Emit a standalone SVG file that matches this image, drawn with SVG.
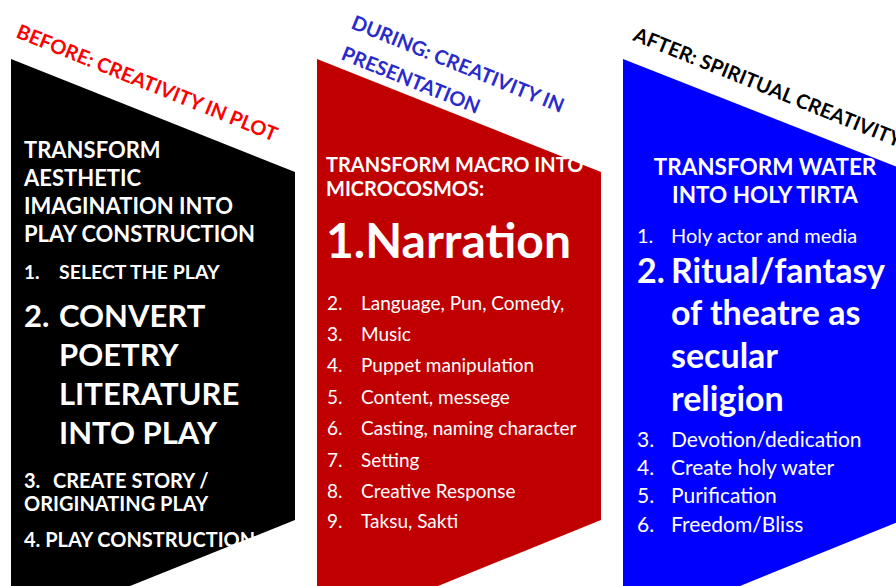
<svg xmlns="http://www.w3.org/2000/svg" width="896" height="586" viewBox="0 0 896 586">
  <style>
    text { font-family: Lato, "Open Sans", "Liberation Sans", sans-serif; fill: #ffffff; }
    .b { font-weight: bold; }
    .head { font-weight: bold; font-size: 22px; }
    .big { font-weight: bold; font-size: 31px; }
    .item { font-size: 19px; }
    .title { font-weight: bold; font-size: 20px; }
  </style>
  <rect width="896" height="586" fill="#ffffff"/>

  <!-- BEFORE column -->
  <g id="before">
    <polygon points="11,59 295,172 295,520 130,586 11,586" fill="#000000"/>
    <text class="title" transform="translate(15,37) rotate(22)" style="fill:#ff0000">BEFORE: CREATIVITY IN PLOT</text>
    <text class="head" x="24" y="158">TRANSFORM</text>
    <text class="head" x="24" y="186">AESTHETIC</text>
    <text class="head" x="24" y="214">IMAGINATION INTO</text>
    <text class="head" x="24" y="242">PLAY CONSTRUCTION</text>
    <text class="b" x="24" y="279" font-size="19">1.</text>
    <text class="b" x="59" y="279" font-size="19.5">SELECT THE PLAY</text>
    <text class="big" x="24" y="327">2.</text>
    <text class="big" x="59" y="327">CONVERT</text>
    <text class="big" x="59" y="366">POETRY</text>
    <text class="big" x="59" y="405">LITERATURE</text>
    <text class="big" x="59" y="444">INTO PLAY</text>
    <text class="b" x="24" y="488" font-size="20">3.</text>
    <text class="b" x="53" y="488" font-size="20">CREATE STORY /</text>
    <text class="b" x="24" y="511" font-size="20">ORIGINATING PLAY</text>
    <text class="b" x="24" y="547" font-size="20">4. PLAY CONSTRUCTION</text>
  </g>

  <!-- DURING column -->
  <g id="during">
    <polygon points="317,59 601,172 601,520 438,586 317,586" fill="#c00000"/>
    <text class="title" transform="translate(350,28) rotate(22)" style="fill:#2b2bcc">DURING: CREATIVITY IN</text>
    <text class="title" transform="translate(340,59) rotate(22)" style="fill:#2b2bcc">PRESENTATION</text>
    <text class="b" x="326" y="172" font-size="20">TRANSFORM MACRO INTO</text>
    <text class="b" x="326" y="196" font-size="20">MICROCOSMOS:</text>
    <text class="b" x="326" y="258" font-size="48">1.Narration</text>
    <g class="item">
      <text x="327" y="310">2.</text><text x="361" y="310">Language, Pun, Comedy,</text>
      <text x="327" y="341">3.</text><text x="361" y="341">Music</text>
      <text x="327" y="372">4.</text><text x="361" y="372">Puppet manipulation</text>
      <text x="327" y="404">5.</text><text x="361" y="404">Content, messege</text>
      <text x="327" y="435">6.</text><text x="361" y="435">Casting, naming character</text>
      <text x="327" y="467">7.</text><text x="361" y="467">Setting</text>
      <text x="327" y="498">8.</text><text x="361" y="498">Creative Response</text>
      <text x="327" y="528">9.</text><text x="361" y="528">Taksu, Sakti</text>
    </g>
  </g>

  <!-- AFTER column -->
  <g id="after">
    <polygon points="623,59 910,172 910,517 740,586 623,586" fill="#0000ff"/>
    <text class="title" transform="translate(632,40) rotate(22)" style="fill:#000000">AFTER: SPIRITUAL CREATIVITY</text>
    <text class="b" x="765" y="175" font-size="22.5" text-anchor="middle">TRANSFORM WATER</text>
    <text class="b" x="765" y="203" font-size="22.5" text-anchor="middle">INTO HOLY TIRTA</text>
    <text x="637" y="243" font-size="20">1.</text>
    <text x="671" y="243" font-size="20">Holy actor and media</text>
    <text class="b" x="637" y="283" font-size="34">2.</text>
    <text class="b" x="671" y="283" font-size="34">Ritual/fantasy</text>
    <text class="b" x="671" y="325" font-size="34">of theatre as</text>
    <text class="b" x="671" y="368" font-size="34">secular</text>
    <text class="b" x="671" y="411" font-size="34">religion</text>
    <g style="font-size:21px">
      <text x="637" y="447">3.</text><text x="671" y="447">Devotion/dedication</text>
      <text x="637" y="475">4.</text><text x="671" y="475">Create holy water</text>
      <text x="637" y="503">5.</text><text x="671" y="503">Purification</text>
      <text x="637" y="532">6.</text><text x="671" y="532">Freedom/Bliss</text>
    </g>
  </g>
</svg>
